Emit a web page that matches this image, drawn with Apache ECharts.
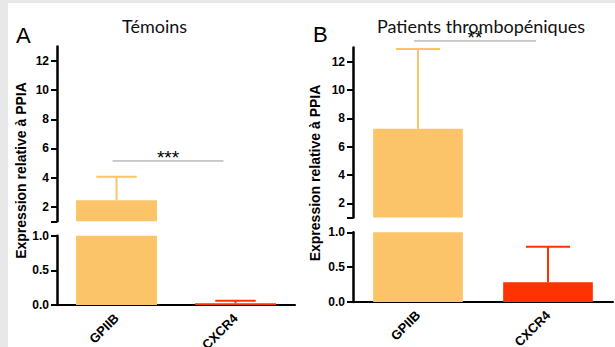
<!DOCTYPE html>
<html>
<head>
<meta charset="utf-8">
<script src="https://cdn.jsdelivr.net/npm/echarts@6/dist/echarts.min.js"></script>
<style>
  html, body { margin: 0; padding: 0; background: #e8e8e8; }
  #chart { position: absolute; left: 8px; top: 3px; width: 607px; height: 344px; background: #fff; }
</style>
</head>
<body>
<div id="chart"></div>
<script>
// data
const categories = ['GPIIB', 'CXCR4'];
const temoinsMean = [2.45, 0.025];
const temoinsErr = [1.61, 0.037];
const patientsMean = [7.27, 0.283];
const patientsErr = [5.62, 0.51];
const upperTicks = [2, 4, 6, 8, 10, 12];
const lowerTicks = [0, 0.5, 1];
const panelTitles = ['Témoins', 'Patients thrombopéniques'];
const panelLetters = ['A', 'B'];
const significance = [
  {from: 0, to: 1, y: 5.14, label: '***'},
  {from: 0, to: 1, y: 13.46, label: '**'},
];

const barColors = ['#fbc468', '#ff3300'];
const axisFont = {fontFamily: 'Liberation Sans', fontWeight: 'bold', fontSize: 12, color: '#000'};
const BREAK = 1;
const TOP = 13;

const chart = echarts.init(document.getElementById('chart'), null, {renderer: 'svg'});

// two stacked grids per panel make the broken y axis
const grids = [
  {left: 49, top: 43.4, width: 238, height: 174.9},   // A upper
  {left: 49, top: 232.7, width: 238, height: 69.3},   // A lower
  {left: 345, top: 44.5, width: 260, height: 170},    // B upper
  {left: 345, top: 229.3, width: 260, height: 69.7},  // B lower
].map(g => Object.assign({outerBoundsMode: 'none', containLabel: false}, g));

function upperY(gridIndex) {
  return {
    gridIndex, type: 'value', min: BREAK, max: TOP,
    axisLine: {show: true, lineStyle: {color: '#000', width: 2.5}},
    axisTick: {show: true, length: 6, lineStyle: {color: '#000', width: 2}, customValues: [BREAK].concat(upperTicks)},
    axisLabel: Object.assign({customValues: upperTicks, margin: 8}, axisFont),
    splitLine: {show: false},
  };
}
function lowerY(gridIndex) {
  return {
    gridIndex, type: 'value', min: 0, max: BREAK,
    axisLine: {show: true, lineStyle: {color: '#000', width: 2.5}},
    axisTick: {show: true, length: 6, lineStyle: {color: '#000', width: 2}, customValues: lowerTicks},
    axisLabel: Object.assign({customValues: lowerTicks, margin: 8, formatter: v => v.toFixed(1)}, axisFont),
    splitLine: {show: false},
  };
}
function upperX(gridIndex) {
  return {gridIndex, type: 'category', data: categories, show: false};
}
function lowerX(gridIndex) {
  return {
    gridIndex, type: 'category', data: categories,
    axisLine: {lineStyle: {color: '#000', width: 2}},
    axisTick: {alignWithLabel: true, length: 6, lineStyle: {color: '#000', width: 2}},
    axisLabel: Object.assign({}, axisFont, {rotate: 45, margin: 11, fontSize: 13}),
  };
}

function barSeries(idx, means, width) {
  return {
    type: 'bar', xAxisIndex: idx, yAxisIndex: idx, barWidth: width, clip: true,
    data: means.map((v, i) => ({value: v, itemStyle: {color: barColors[i]}})),
    silent: true,
  };
}

function errorSeries(idx, means, errs, lo, hi) {
  return {
    type: 'custom', xAxisIndex: idx, yAxisIndex: idx, silent: true, z: 3,
    encode: {x: 0, y: 1},
    data: means.map((m, i) => [i, m, errs[i]]),
    renderItem(params, api) {
      const i = api.value(0);
      const mean = api.value(1);
      const top = mean + api.value(2);
      const y0 = Math.max(mean, lo);
      const y1 = Math.min(top, hi);
      if (y1 <= y0) return {type: 'group', children: []};
      const a = api.coord([i, y0]);
      const b = api.coord([i, y1]);
      const half = api.size([1, 0])[0] * 0.17;
      const style = {stroke: barColors[i], lineWidth: 2};
      const children = [{type: 'line', shape: {x1: a[0], y1: a[1], x2: b[0], y2: b[1]}, style}];
      if (top <= hi) {
        children.push({type: 'line', shape: {x1: b[0] - half, y1: b[1], x2: b[0] + half, y2: b[1]}, style});
      }
      return {type: 'group', children};
    },
  };
}

function sigSeries(idx, sig) {
  return {
    type: 'custom', xAxisIndex: idx, yAxisIndex: idx, silent: true, z: 4,
    encode: {x: 0, y: 2},
    data: [[sig.from, sig.to, sig.y]],
    renderItem(params, api) {
      const p0 = api.coord([api.value(0), api.value(2)]);
      const p1 = api.coord([api.value(1), api.value(2)]);
      const x0 = p0[0] - 4, x1 = p1[0] - 12;
      return {
        type: 'group',
        children: [
          {type: 'line', shape: {x1: x0, y1: p0[1], x2: x1, y2: p0[1]}, style: {stroke: '#999', lineWidth: 1}},
          {type: 'text', x: (x0 + x1) / 2, y: p0[1] + 6,
            style: {text: sig.label, textAlign: 'center', textVerticalAlign: 'bottom', font: '19px "Liberation Sans"', fill: '#000'}},
        ],
      };
    },
  };
}

const option = {
  animation: false,
  backgroundColor: '#fff',
  grid: grids,
  xAxis: [upperX(0), lowerX(1), upperX(2), lowerX(3)],
  yAxis: [upperY(0), lowerY(1), upperY(2), lowerY(3)],
  graphic: [
    {type: 'text', x: 146.5, y: 23, style: {text: panelTitles[0], textAlign: 'center', textVerticalAlign: 'middle', font: '18px Lato', fill: '#111'}},
    {type: 'text', x: 473, y: 23, style: {text: panelTitles[1], textAlign: 'center', textVerticalAlign: 'middle', font: '18px Lato', fill: '#111'}},
    {type: 'text', x: 8, y: 32, style: {text: panelLetters[0], textAlign: 'left', textVerticalAlign: 'middle', font: '22px "Liberation Sans"', fill: '#000'}},
    {type: 'text', x: 305, y: 31, style: {text: panelLetters[1], textAlign: 'left', textVerticalAlign: 'middle', font: '22px "Liberation Sans"', fill: '#000'}},
    {type: 'text', x: 13, y: 167.5, rotation: Math.PI / 2, style: {text: 'Expression relative à PPIA', textAlign: 'center', textVerticalAlign: 'middle', font: 'bold 14px "Liberation Sans"', fill: '#000'}},
    {type: 'text', x: 307, y: 170, rotation: Math.PI / 2, style: {text: 'Expression relative à PPIA', textAlign: 'center', textVerticalAlign: 'middle', font: 'bold 14px "Liberation Sans"', fill: '#000'}},
  ],
  series: [
    barSeries(0, temoinsMean, '68%'),
    barSeries(1, temoinsMean, '68%'),
    barSeries(2, patientsMean, '69%'),
    barSeries(3, patientsMean, '69%'),
    errorSeries(0, temoinsMean, temoinsErr, BREAK, TOP),
    errorSeries(1, temoinsMean, temoinsErr, 0, BREAK),
    errorSeries(2, patientsMean, patientsErr, BREAK, TOP),
    errorSeries(3, patientsMean, patientsErr, 0, BREAK),
    sigSeries(0, significance[0]),
    sigSeries(2, significance[1]),
  ],
};

chart.setOption(option);
window.addEventListener('resize', () => chart.resize());
</script>
</body>
</html>
